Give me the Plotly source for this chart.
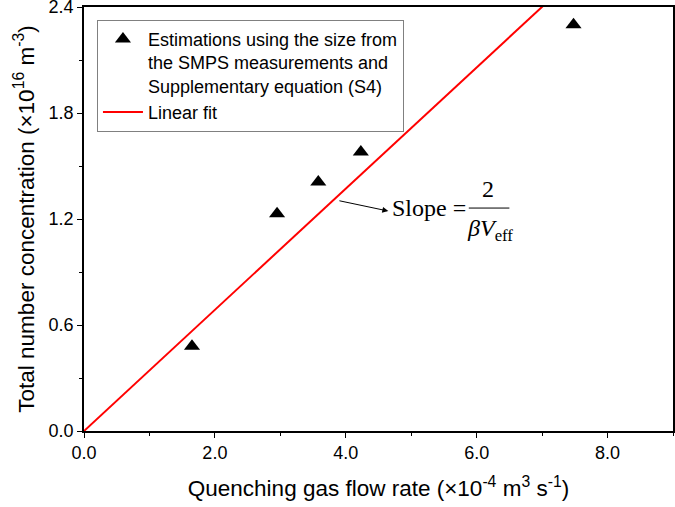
import plotly.graph_objects as go

# Data
flow_rate = [1.65, 2.95, 3.58, 4.23, 7.48]          # x10^-4 m^3 s^-1
concentration = [0.48, 1.23, 1.41, 1.58, 2.30]      # x10^16 m^-3
fit_slope = 0.343
fit_x = [0.0, 7.3]
fit_y = [fit_slope * v for v in fit_x]

x_ticks = [0, 2, 4, 6, 8]
y_ticks = [0.0, 0.6, 1.2, 1.8, 2.4]

FONT = "Liberation Sans, Arial, sans-serif"
SERIF = "Liberation Serif, Times New Roman, serif"

fig = go.Figure()
fig.add_trace(go.Scatter(
    x=flow_rate, y=concentration, mode="markers",
    marker=dict(symbol="triangle-up", size=14, color="black"),
    name="Estimations using the size from<br>the SMPS measurements and<br>Supplementary equation (S4)",
))
fig.add_trace(go.Scatter(
    x=fit_x, y=fit_y, mode="lines",
    line=dict(color="#ff0000", width=2),
    name="Linear fit",
))

axis_common = dict(
    showline=True, linecolor="black", linewidth=1.5, mirror=True,
    ticks="outside", ticklen=5, tickwidth=1.3, tickcolor="black",
    showgrid=False, zeroline=False, automargin=False,
    ticklabeloverflow="allow",
    tickfont=dict(family=FONT, size=18, color="black"),
    tickformat=".1f",
)

fig.update_xaxes(
    range=[0, 9], tickvals=x_ticks,
    minor=dict(dtick=1, ticks="outside", ticklen=3, tickcolor="black", showgrid=False),
    title=dict(text="Quenching gas flow rate (×10<sup>-4</sup> m<sup>3</sup> s<sup>-1</sup>)",
               font=dict(family=FONT, size=22.5, color="black"), standoff=18),
    **axis_common,
)
fig.update_yaxes(
    range=[0, 2.4001], tickvals=y_ticks,
    minor=dict(dtick=0.3, ticks="outside", ticklen=3, tickcolor="black", showgrid=False),
    title=dict(text="Total number concentration (×10<sup>16</sup> m<sup>-3</sup>)",
               font=dict(family=FONT, size=22.5, color="black"), standoff=8),
    **axis_common,
)

# Slope annotation with arrow
fig.add_annotation(x=4.65, y=1.245, ax=3.88, ay=1.305, xref="x", yref="y",
                   axref="x", ayref="y", text="", showarrow=True,
                   arrowhead=2, arrowsize=1.2, arrowwidth=1, arrowcolor="black")
fig.add_annotation(x=5.27, y=1.26, xref="x", yref="y", text="Slope =",
                   showarrow=False, font=dict(family=SERIF, size=24, color="black"))
fig.add_annotation(x=6.17, y=1.37, xref="x", yref="y", text="2",
                   showarrow=False, font=dict(family=SERIF, size=24, color="black"))
fig.add_annotation(x=6.2, y=1.14, xref="x", yref="y",
                   text="<i>βV</i><sub>eff</sub>",
                   showarrow=False, font=dict(family=SERIF, size=24, color="black"))
fig.add_shape(type="line", xref="x", yref="y", x0=5.88, x1=6.5, y0=1.262, y1=1.262,
              line=dict(color="black", width=1))

fig.update_layout(
    width=675, height=507,
    margin=dict(l=84, r=2, t=7, b=76),
    plot_bgcolor="white", paper_bgcolor="white",
    font=dict(family=FONT, size=18, color="black"),
    showlegend=True,
    legend=dict(
        x=0.022, y=0.97, xanchor="left", yanchor="top",
        bordercolor="#808080", borderwidth=1, bgcolor="white",
        font=dict(family=FONT, size=18, color="black"),
        valign="top", tracegroupgap=0, itemwidth=40,
    ),
)

fig.write_html("out.html",
               config={"displayModeBar": False},
               post_script="document.body.style.margin='0';document.body.style.overflow='hidden';")
